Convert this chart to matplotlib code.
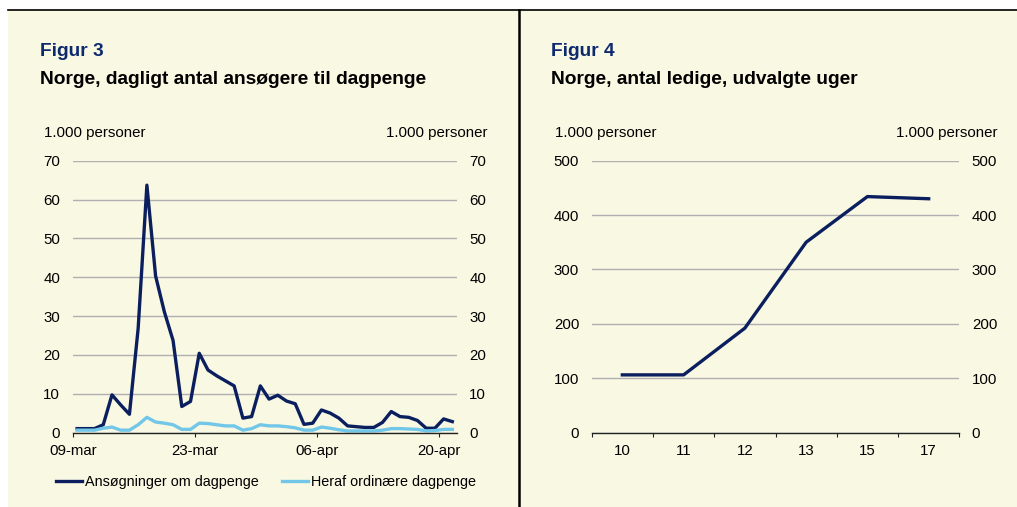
import matplotlib.pyplot as plt
from matplotlib.patches import Rectangle
from matplotlib.lines import Line2D

plt.rcParams['font.family'] = ['Liberation Sans', 'DejaVu Sans']

# Figur 3: daily applicants (1.000 personer), 09-mar .. 21-apr
day_labels = ["09-mar", "23-mar", "06-apr", "20-apr"]
day_label_pos = [0, 14, 28, 42]
applications = [1.0, 1.0, 1.0, 2.0, 9.7, 7.1, 4.7, 26.8, 63.7, 40.3,
                31.1, 23.7, 6.7, 8.0, 20.4, 16.1, 14.6, 13.3, 12.0, 3.7,
                4.1, 12.0, 8.6, 9.6, 8.1, 7.4, 2.1, 2.4, 5.8, 5.0,
                3.7, 1.7, 1.5, 1.3, 1.3, 2.6, 5.4, 4.1, 3.9, 3.1,
                1.1, 1.1, 3.5, 2.8]
ordinary = [0.6, 0.6, 0.6, 1.1, 1.4, 0.6, 0.6, 2.0, 3.9, 2.7,
            2.4, 2.0, 0.8, 0.8, 2.4, 2.3, 2.0, 1.7, 1.7, 0.6,
            1.0, 2.0, 1.7, 1.7, 1.5, 1.2, 0.6, 0.6, 1.4, 1.1,
            0.7, 0.4, 0.4, 0.4, 0.4, 0.6, 1.0, 1.0, 0.9, 0.8,
            0.4, 0.5, 0.8, 0.8]

# Figur 4: unemployed, selected weeks (1.000 personer)
weeks = ["10", "11", "12", "13", "15", "17"]
unemployed = [106, 106, 192, 350, 434, 430]

BG = "#F9F8E3"
DARK = "#0B1F5E"
LIGHT = "#72C7E8"
GRID = "#B0B0B0"
NAVY = "#0E2A6E"
W, H = 1017, 507
FS = 10.8
TFS = 13.8
LW = 2.4

fig = plt.figure(figsize=(W / 100, H / 100), dpi=100)
fig.patch.set_facecolor("white")

def px(x0, y0, x1, y1):
    # pixel box (top-left origin) -> figure fraction
    return [x0 / W, 1 - y1 / H, (x1 - x0) / W, (y1 - y0) / H]

# beige panel and frame lines
fig.patches.append(Rectangle((8 / W, 0), 1, 1 - 10 / H, transform=fig.transFigure,
                             facecolor=BG, edgecolor="none", zorder=-5))
fig.lines.append(Line2D([8 / W, 1], [1 - 10 / H, 1 - 10 / H], transform=fig.transFigure,
                        color="black", lw=1.2))
fig.lines.append(Line2D([519 / W, 519 / W], [0, 1 - 10 / H], transform=fig.transFigure,
                        color="black", lw=1.8))


def style(ax, ymax, step):
    ax.set_facecolor("none")
    for s in ["top", "left", "right"]:
        ax.spines[s].set_visible(False)
    ax.spines["bottom"].set_color("#222222")
    ax.spines["bottom"].set_linewidth(1.0)
    ax.set_ylim(0, ymax)
    ax.set_yticks(range(0, ymax + 1, step))
    ax.grid(axis="y", color=GRID, lw=1.0)
    ax.set_axisbelow(True)
    ax.tick_params(axis="y", length=0, pad=9, labelsize=FS, labelleft=True, labelright=True)
    ax.tick_params(axis="x", which="both", direction="out", length=3, width=0.8,
                   color="#222222", labelsize=FS, pad=5)


# ---- Figur 3
ax1 = fig.add_axes(px(72.7, 160.7, 456.7, 432.5))
style(ax1, 70, 10)
xs = [i + 0.5 for i in range(len(applications))]
l1, = ax1.plot(xs, applications, color=DARK, lw=LW, label="Ansøgninger om dagpenge")
l2, = ax1.plot(xs, ordinary, color=LIGHT, lw=LW, label="Heraf ordinære dagpenge")
ax1.set_xlim(0, len(applications))
ax1.set_xticks(day_label_pos)
ax1.set_xticklabels(day_labels)
ax1.legend(handles=[l1, l2], ncol=2, frameon=False, fontsize=10.4,
           loc="center left", bbox_to_anchor=(56 / W, 1 - 482 / H),
           bbox_transform=fig.transFigure, handlelength=1.8, handletextpad=0.2,
           columnspacing=1.6, borderaxespad=0, borderpad=0)

fig.text(40 / W, 1 - 51 / H, "Figur 3", color=NAVY, fontsize=TFS, fontweight="bold", va="center")
fig.text(40 / W, 1 - 80 / H, "Norge, dagligt antal ansøgere til dagpenge", color="black",
         fontsize=TFS, fontweight="bold", va="center")
fig.text(44 / W, 1 - 133 / H, "1.000 personer", fontsize=FS, va="center")
fig.text(487 / W, 1 - 133 / H, "1.000 personer", fontsize=FS, va="center", ha="right")

# ---- Figur 4
ax2 = fig.add_axes(px(591.7, 160.7, 959.3, 432.5))
style(ax2, 500, 100)
wx = [i + 0.5 for i in range(len(weeks))]
ax2.plot(wx, unemployed, color=DARK, lw=LW)
ax2.set_xlim(0, len(weeks))
ax2.set_xticks(range(len(weeks) + 1))
ax2.set_xticklabels([])
ax2.set_xticks(wx, minor=True)
ax2.set_xticklabels(weeks, minor=True)
ax2.tick_params(axis="x", which="minor", length=0, pad=8)

fig.text(551 / W, 1 - 51 / H, "Figur 4", color=NAVY, fontsize=TFS, fontweight="bold", va="center")
fig.text(551 / W, 1 - 80 / H, "Norge, antal ledige, udvalgte uger", color="black",
         fontsize=TFS, fontweight="bold", va="center")
fig.text(555 / W, 1 - 133 / H, "1.000 personer", fontsize=FS, va="center")
fig.text(997 / W, 1 - 133 / H, "1.000 personer", fontsize=FS, va="center", ha="right")

fig.savefig("out.png", dpi=100, facecolor=fig.get_facecolor())
